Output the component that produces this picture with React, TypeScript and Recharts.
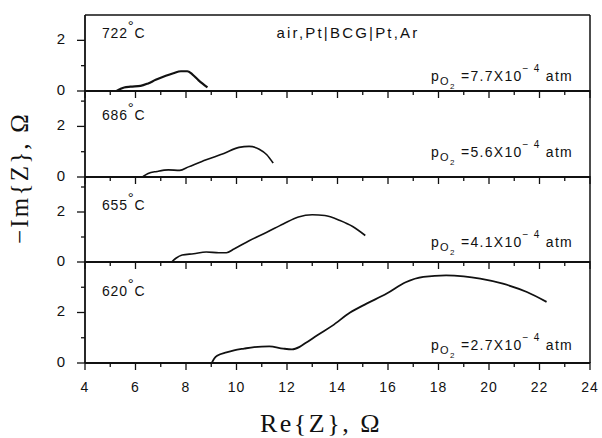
import { Line, LineChart, ReferenceLine, XAxis, YAxis } from "recharts";

// Re{Z} tick positions (ohm), labels only on even values
const reTicks = [4, 5, 6, 7, 8, 9, 10, 11, 12, 13, 14, 15, 16, 17, 18, 19, 20, 21, 22, 23, 24];
const imTicks = [0, 1, 2, 3];

// 722 °C, pO2 = 7.7e-4 atm
const re722 = [5.25, 5.4, 5.55, 5.8, 6.2, 6.5, 6.8, 7.2, 7.5, 7.8, 8.05, 8.25, 8.5, 8.85];
const im722 = [0.0, 0.08, 0.14, 0.17, 0.2, 0.3, 0.44, 0.6, 0.7, 0.78, 0.78, 0.66, 0.42, 0.14];

// 686 °C, pO2 = 5.6e-4 atm
const re686 = [6.3, 6.5, 6.85, 7.3, 7.75, 8.1, 8.8, 9.5, 10.1, 10.5, 10.9, 11.2, 11.45];
const im686 = [0.02, 0.14, 0.22, 0.28, 0.26, 0.4, 0.68, 0.93, 1.17, 1.21, 1.1, 0.88, 0.55];

// 655 °C, pO2 = 4.1e-4 atm
const re655 = [7.43, 7.6, 7.85, 8.3, 8.8, 9.3, 9.6, 9.9, 10.5, 11.2, 11.85, 12.45, 13.0, 13.5, 14.1, 14.6, 15.1];
const im655 = [0.0, 0.15, 0.28, 0.33, 0.4, 0.37, 0.37, 0.52, 0.85, 1.19, 1.52, 1.8, 1.89, 1.86, 1.66, 1.42, 1.06];

// 620 °C, pO2 = 2.7e-4 atm
const re620 = [9.02, 9.12, 9.25, 9.6, 9.9, 10.3, 10.7, 11.3, 11.85, 12.2, 12.5, 12.75, 13.2, 13.8, 14.5, 15.15, 15.95, 16.7, 17.4, 18.3, 19.0, 19.65, 20.55, 21.5, 22.28];
const im620 = [0.0, 0.18, 0.3, 0.42, 0.5, 0.57, 0.63, 0.66, 0.57, 0.54, 0.64, 0.8, 1.1, 1.48, 2.0, 2.35, 2.75, 3.2, 3.41, 3.47, 3.43, 3.34, 3.14, 2.81, 2.42];

const temps = ["722", "686", "655", "620"];
const pressures = ["7.7", "5.6", "4.1", "2.7"];

const toPoints = (re: number[], im: number[]) => re.map((x, i) => ({ x, y: im[i] }));

const panels = [
  { data: toPoints(re722, im722), top: 15, height: 76, yMax: 3, stroke: 2.2 },
  { data: toPoints(re686, im686), top: 91, height: 86, yMax: 3.4, stroke: 1.6 },
  { data: toPoints(re655, im655), top: 177, height: 85, yMax: 3.4, stroke: 1.6 },
  { data: toPoints(re620, im620), top: 262, height: 101, yMax: 4, stroke: 1.8 },
];

const tempY = [38, 120, 210, 296];
const pressY = [81, 157, 247, 350];

const sans = "'Liberation Sans', Arial, sans-serif";
const serif = "'Liberation Serif', 'Times New Roman', serif";

const XTick = (props: any) => {
  const { x, y, payload, showLabel } = props;
  const major = payload.value % 2 === 0;
  return (
    <g>
      <line x1={x} x2={x} y1={y - (major ? 1 : 0)} y2={y + (major ? 7 : 4)} stroke="#111" strokeWidth={1.3} />
      {showLabel && major && (
        <text
          x={x}
          y={y + 25}
          textAnchor="middle"
          dominantBaseline="middle"
          fontFamily={sans}
          fontSize={14}
          letterSpacing={1}
          fill="#111"
        >
          {payload.value}
        </text>
      )}
    </g>
  );
};

const YTick = (props: any) => {
  const { x, y, payload } = props;
  const major = payload.value % 2 === 0;
  return (
    <g>
      <line x1={x - (major ? 8 : 4)} x2={x} y1={y} y2={y} stroke="#111" strokeWidth={1.3} />
      {major && (
        <text
          x={x - 24}
          y={y}
          textAnchor="middle"
          dominantBaseline="middle"
          fontFamily={sans}
          fontSize={15}
          fill="#111"
        >
          {payload.value}
        </text>
      )}
    </g>
  );
};

const Panel = ({ p, last, first }: { p: (typeof panels)[number]; last: boolean; first: boolean }) => {
  const axisH = last ? 40 : 10;
  return (
    <div style={{ position: "absolute", left: 0, top: p.top - 2 }}>
      <LineChart width={602} height={p.height + 2 + axisH} data={p.data} margin={{ top: 2, right: 12, bottom: 0, left: 0 }}>
        <XAxis
          type="number"
          dataKey="x"
          domain={[4, 24]}
          ticks={reTicks}
          interval={0}
          height={axisH}
          tickSize={0}
          tickMargin={0}
          tickLine={false}
          axisLine={{ stroke: "#111", strokeWidth: 1.8 }}
          tick={(t: any) => <XTick {...t} showLabel={last} />}
        />
        <YAxis
          type="number"
          domain={[0, p.yMax]}
          ticks={p.yMax >= 3.2 ? imTicks : imTicks.slice(0, 3)}
          interval={0}
          width={85}
          tickSize={0}
          tickMargin={0}
          tickLine={false}
          allowDataOverflow
          axisLine={{ stroke: "#111", strokeWidth: 1.8 }}
          tick={(t: any) => <YTick {...t} />}
        />
        <ReferenceLine x={24} stroke="#111" strokeWidth={1.5} />
        {first && <ReferenceLine y={p.yMax} stroke="#111" strokeWidth={1.5} />}
        <Line
          type="monotone"
          dataKey="y"
          dot={false}
          stroke="#111"
          strokeWidth={p.stroke}
          isAnimationActive={false}
        />
      </LineChart>
    </div>
  );
};

export default function App() {
  return (
    <div style={{ position: "absolute", left: 0, top: 0, width: 602, height: 438, background: "#fff", overflow: "hidden" }}>
      {panels.map((p, i) => (
        <Panel key={temps[i]} p={p} first={i === 0} last={i === panels.length - 1} />
      ))}
      <svg width={602} height={438} style={{ position: "absolute", left: 0, top: 0, pointerEvents: "none" }}>
        {temps.map((t, i) => (
          <text key={t} x={102} y={tempY[i]} fontFamily={sans} fontSize={14} letterSpacing={0.8} fill="#111">
            {t}
            <tspan dy={-7} fontSize={15}>°</tspan>
            <tspan dy={7}>C</tspan>
          </text>
        ))}
        <text x={348} y={38} textAnchor="middle" fontFamily={sans} fontSize={15} letterSpacing={2.2} fill="#111">
          air,Pt|BCG|Pt,Ar
        </text>
        {pressures.map((v, i) => (
          <text key={v} x={431} y={pressY[i]} fontFamily={sans} fontSize={14} letterSpacing={1.3} fill="#111">
            p
            <tspan dy={4} fontSize={11}>O</tspan>
            <tspan dy={4} fontSize={8}>2</tspan>
            <tspan dy={-8} fontSize={14}> ={v}X10</tspan>
            <tspan dy={-9} fontSize={10}>− 4</tspan>
            <tspan dy={9} fontSize={14}> atm</tspan>
          </text>
        ))}
        <text
          x={22}
          y={178}
          transform="rotate(-90 22 178)"
          textAnchor="middle"
          dominantBaseline="middle"
          fontFamily={serif}
          fontSize={25}
          letterSpacing={2.2}
          fill="#111"
        >
          −Im{"{"}Z{"}"},  Ω
        </text>
        <text
          x={321}
          y={426}
          textAnchor="middle"
          dominantBaseline="middle"
          fontFamily={serif}
          fontSize={26}
          letterSpacing={2.5}
          fill="#111"
        >
          Re{"{"}Z{"}"},  Ω
        </text>
      </svg>
    </div>
  );
}
